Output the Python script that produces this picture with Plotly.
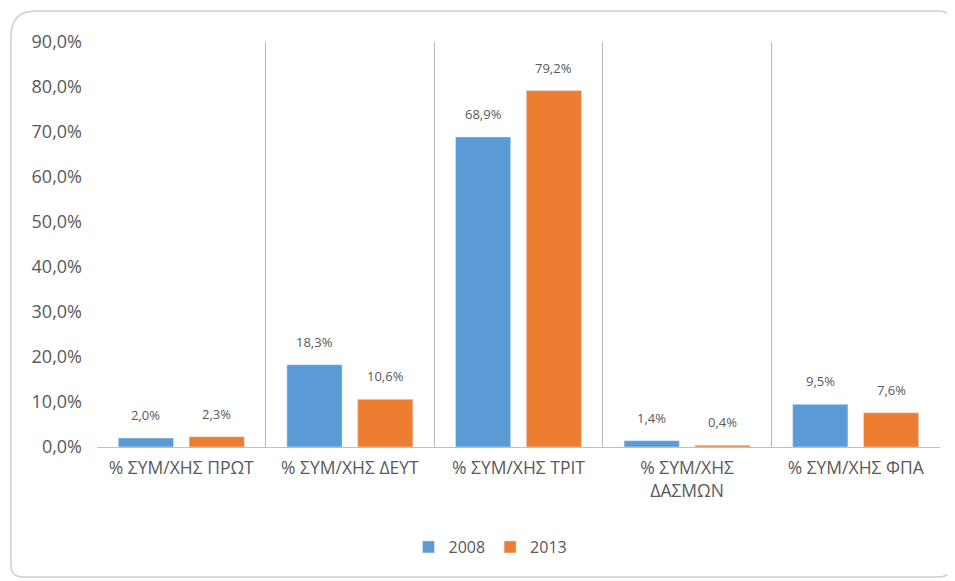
import plotly.graph_objects as go

categories = ["% ΣΥΜ/ΧΗΣ ΠΡΩΤ", "% ΣΥΜ/ΧΗΣ ΔΕΥΤ", "% ΣΥΜ/ΧΗΣ ΤΡΙΤ",
              "% ΣΥΜ/ΧΗΣ<br>ΔΑΣΜΩΝ", "% ΣΥΜ/ΧΗΣ ΦΠΑ"]
values_2008 = [2.0, 18.3, 68.9, 1.4, 9.5]
values_2013 = [2.3, 10.6, 79.2, 0.4, 7.6]
series_names = ["2008", "2013"]
y_ticks = [0, 10, 20, 30, 40, 50, 60, 70, 80, 90]

# page body has an 8px margin -> figure drawn at (8, 8)
OFF = 8
W, H = 955 - OFF, 581 - OFF
L, T = 97 - OFF, 42 - OFF
R = W - (940 - OFF)
B = H - (447 - OFF)
PW, PH = W - L - R, H - T - B

FONT = "'Open Sans', 'Noto Sans', sans-serif"
GRAY = "#595959"
COLORS = ["#5B9BD5", "#ED7D31"]
BARGAP, GROUPGAP = 0.16, 0.22

fig = go.Figure()
for name, vals, col in zip(series_names, [values_2008, values_2013], COLORS):
    fig.add_trace(go.Bar(x=categories, y=vals, name=name, marker_color=col))

# data labels above bars
slot = PW / len(categories) * (1 - BARGAP) / 2
for i, vals in enumerate([values_2008, values_2013]):
    shift = (i - 0.5) * slot
    for c, v in zip(categories, vals):
        fig.add_annotation(x=c, y=v, text=f"{v:.1f}%".replace(".", ","),
                           showarrow=False, xshift=shift, yshift=12,
                           yanchor="bottom",
                           font=dict(size=13, color=GRAY, family=FONT))


def px2p(x, y):
    return (x - OFF - L) / PW, (H - B - (y - OFF)) / PH


def border_path(x0, y0, x1, y1, rtl, r):
    def P(x, y):
        a, b = px2p(x, y)
        return f"{a:.5f},{b:.5f}"
    s = f"M {P(x0 + rtl, y0)} L {P(x1 - r, y0)} Q {P(x1, y0)} {P(x1, y0 + r)} "
    s += f"L {P(x1, y1 - r)} Q {P(x1, y1)} {P(x1 - r, y1)} "
    s += f"L {P(x0 + r, y1)} Q {P(x0, y1)} {P(x0, y1 - r)} "
    s += f"L {P(x0, y0 + rtl)} Q {P(x0, y0)} {P(x0 + rtl, y0)} Z"
    return s


fig.add_shape(type="path", xref="paper", yref="paper",
              path=border_path(11, 11, 951, 577, 25, 12),
              line=dict(color="#CFCFCF", width=1.5), layer="below")

fig.update_layout(
    width=W, height=H,
    margin=dict(l=L, r=R, t=T, b=B, autoexpand=False),
    paper_bgcolor="white", plot_bgcolor="white",
    barmode="group", bargap=BARGAP, bargroupgap=GROUPGAP,
    font=dict(family=FONT, color=GRAY, size=17),
    showlegend=True,
    legend=dict(orientation="h", x=0.5 - 28 / PW, xanchor="center",
                y=(439 + 2 - (549 - OFF)) / PH, yanchor="middle",
                font=dict(size=16, color=GRAY), itemwidth=30,
                traceorder="normal"),
    xaxis=dict(tickson="boundaries", showgrid=True, gridcolor="#B8B8B8",
               gridwidth=1, showline=True, linecolor="#BFBFBF", linewidth=1,
               ticks="", tickfont=dict(size=17.5, color=GRAY),
               ticklabelstandoff=5, fixedrange=True),
    yaxis=dict(range=[0, 90], tickvals=y_ticks,
               ticktext=[f"{t:.1f}%".replace(".", ",") for t in y_ticks],
               showgrid=False, showline=False, zeroline=False,
               ticks="", tickfont=dict(size=18, color=GRAY),
               ticklabelstandoff=14, fixedrange=True),
)

fig.write_html("out.html")
